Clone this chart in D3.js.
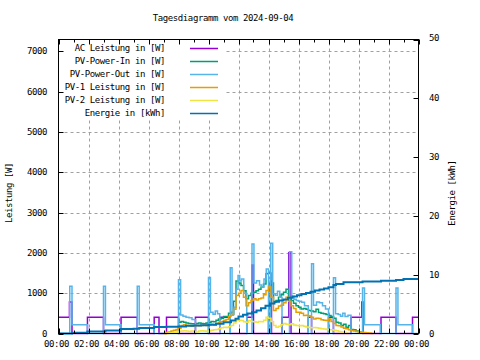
<!DOCTYPE html>
<html><head><meta charset="utf-8">
<script src="https://cdn.jsdelivr.net/npm/d3@7"></script>
<style>
html,body{margin:0;padding:0;background:#fff;}
text{font-family:"DejaVu Sans Mono",monospace;font-size:9px;letter-spacing:-0.4px;fill:#000;}
</style></head>
<body><svg id="c" width="480" height="360"></svg>
<script>
// ---- data ----
const title = "Tagesdiagramm vom 2024-09-04";
const xTickLabels = ["00:00","02:00","04:00","06:00","08:00","10:00","12:00","14:00","16:00","18:00","20:00","22:00","00:00"];
const yTicks = [0,1000,2000,3000,4000,5000,6000,7000];
const y2Ticks = [0,10,20,30,40,50];
const seriesNames = ["AC Leistung in [W]","PV-Power-In in [W]","PV-Power-Out in [W]","PV-1 Leistung in [W]","PV-2 Leistung in [W]","Energie in [kWh]"];
const seriesColors = ["#9400d3","#009e73","#56b4e9","#e69f00","#f0e442","#0072b2"];

// 10-minute samples from 07:00 to 21:00
const pvStartHour = 7, pvStepHour = 1/6;
const pvIn = [null,null,null,null,null,null,
 280,300,280,260,250,240,240,250,260,250,240,260,270,300,290,330,360,380,420,420,500,530,800,1300,
 1250,1190,1060,860,940,1000,1020,1060,1100,1150,1230,1480,1500,1250,775,820,900,960,1020,1100,
 900,820,750,690,650,610,620,600,570,560,540,600,520,500,490,470,445,420,380,280,260,200,230,155,200,
 100,90,60,40,0,null,null,null,null,null];
const pv1 = [0,30,40,60,80,100,130,200,220,200,190,180,190,200,190,200,210,200,210,230,220,250,280,300,
 330,350,420,450,600,940,1000,1065,900,690,760,820,860,830,860,880,960,1065,1150,900,570,620,680,700,
 760,900,800,690,620,530,530,500,445,450,440,400,360,380,370,340,330,320,360,300,250,200,190,160,
 130,120,90,75,60,50,40,30,25,20,15,0,0];
const pv2 = [0,0,10,20,30,40,50,60,70,60,50,60,50,40,60,70,60,50,60,80,90,100,120,140,155,150,170,200,
 260,320,330,320,290,280,320,300,290,280,300,290,330,400,380,300,200,155,180,220,250,230,220,240,210,
 200,190,200,180,160,150,140,150,140,130,120,110,100,90,90,80,70,50,40,30,0,0,null,null,null,null,
 null,null,null,null,null,null];

// step series: [hour, value]
const acSteps = [[0,400],[0.73,780],[0.9,0],[1.93,400],[3.0,0],[4.17,400],[5.25,0],[6.38,400],[6.7,0],
 [7.2,400],[8.0,0],[9.13,400],[10.0,0],[10.75,400],[11.45,0],[12.55,400],[12.9,1700],[13.0,0],
 [14.0,400],[14.12,1300],[14.2,0],[14.9,400],[15.35,2000],[15.5,0],[16.65,400],[16.87,0],[18.0,400],
 [18.33,0],[19.5,400],[20.22,780],[20.3,0],[21.5,400],[22.5,0],[23.6,400],[24,400]];
const pvOutSteps = [[0,0],[0.75,1170],[0.9,220],[1.93,0],[3.0,1170],[3.13,220],[4.17,0],
 [5.25,1170],[5.38,215],[6.38,0],
 [8.0,1330],[8.14,460],[8.3,430],[8.5,400],[8.7,390],[8.9,350],[9.13,0],
 [10.0,1390],[10.13,530],[10.3,480],[10.45,560],[10.6,490],[10.75,0],
 [11.45,1630],[11.57,480],[11.7,650],[11.85,1100],[11.97,1440],[12.08,1300],[12.2,1350],[12.35,1000],[12.55,0],
 [12.9,2220],[13.03,1250],[13.2,1310],[13.4,1200],[13.55,1150],[13.7,1350],[13.85,1600],[14.0,0],
 [14.15,2240],[14.28,985],[14.45,950],[14.6,1050],[14.75,900],[14.9,0],
 [15.4,2030],[15.55,920],[15.7,850],[15.85,820],[16.0,800],[16.2,775],[16.4,690],[16.65,0],
 [16.87,1730],[17.0,700],[17.2,780],[17.4,760],[17.6,690],[17.8,610],[18.0,0],
 [18.33,1380],[18.47,490],[18.65,470],[18.8,430],[18.95,500],[19.1,420],[19.3,450],[19.5,0],
 [20.27,1130],[20.4,220],[21.45,0],[22.5,1130],[22.63,220],[23.6,0],[24,0]];
const energySteps = [[0,0],[0.9,0.12],[1.93,0.34],[3.13,0.5],[4.17,0.76],[5.0,0.8],[5.38,0.95],[6.38,1.1],
 [7.2,1.15],[8.0,1.2],[8.5,1.3],[9.0,1.35],[9.5,1.4],[10.0,1.5],[10.5,1.65],[11.0,1.9],[11.5,2.2],
 [11.8,2.5],[12.0,2.9],[12.3,3.2],[12.6,3.4],[12.9,3.6],[13.2,3.9],[13.5,4.3],[13.8,4.7],[14.1,5.1],
 [14.4,5.4],[14.7,5.6],[15.0,5.8],[15.3,6.1],[15.6,6.3],[15.9,6.5],[16.2,6.7],[16.5,6.9],[16.8,7.1],
 [17.1,7.3],[17.4,7.5],[17.7,7.65],[18.0,7.85],[18.33,8.25],[18.5,8.4],[19.0,8.7],[20.27,8.86],
 [21.5,8.95],[22.5,9.1],[23.0,9.27],[24,9.27]];

// ---- drawing ----
const svg = d3.select("#c");
const L = 58.5, R = 418.5, T = 39.5, B = 333.5;
const x = d3.scaleLinear().domain([0,24]).range([L,R]);
const y = d3.scaleLinear().domain([0,7290]).range([B,T]);
const y2 = d3.scaleLinear().domain([0,50]).range([B,T]);

svg.append("rect").attr("width",480).attr("height",360).attr("fill","#fff");

// grid
const g = svg.append("g").attr("stroke","#a0a0a0").attr("stroke-width",1).attr("stroke-dasharray","3,3");
xTickLabels.forEach((t,i)=>{ if(i>0 && i<xTickLabels.length-1) g.append("line").attr("x1",Math.round(x(i*2))+0.5).attr("x2",Math.round(x(i*2))+0.5).attr("y1",B).attr("y2",T); });
yTicks.forEach(v=>{ if(v>0) g.append("line").attr("x1",L).attr("x2",R).attr("y1",Math.round(y(v))+0.5).attr("y2",Math.round(y(v))+0.5); });

// legend background
svg.append("rect").attr("x",L+0.5).attr("y",T+0.5).attr("width",166).attr("height",78).attr("fill","#fff");

// series
const stepLine = d3.line().defined(d=>d[1]!==null).x(d=>x(d[0])).y(d=>y(d[1])).curve(d3.curveStepAfter);
const toPairs = arr => arr.map((v,i)=>[pvStartHour+i*pvStepHour, v]);
const plotG = svg.append("g").attr("fill","none");
const draw = (data, color, w, line) => plotG.append("path").attr("d",(line||stepLine)(data)).attr("stroke",color).attr("stroke-width",w).attr("stroke-linejoin","miter");
draw(acSteps, seriesColors[0], 1.5);
draw(toPairs(pvIn), seriesColors[1], 1.5);
draw(pvOutSteps, seriesColors[2], 1.5);
draw(toPairs(pv1), seriesColors[3], 1.5);
draw(toPairs(pv2), seriesColors[4], 1.5);
const eLine = d3.line().x(d=>x(d[0])).y(d=>y2(d[1])).curve(d3.curveStepAfter);
draw(energySteps, seriesColors[5], 2, eLine);

// border + ticks
const ax = svg.append("g").attr("stroke","#000").attr("stroke-width",1);
ax.append("rect").attr("x",L).attr("y",T).attr("width",R-L).attr("height",B-T).attr("fill","none");
for(let h=0; h<=24; h++){
  const len = h%2===0 ? 5 : 3;
  const xx = Math.round(x(h))+0.5;
  ax.append("line").attr("x1",xx).attr("x2",xx).attr("y1",B).attr("y2",B-len);
  ax.append("line").attr("x1",xx).attr("x2",xx).attr("y1",T).attr("y2",T+len);
}
yTicks.forEach(v=>{
  const yy = Math.round(y(v))+0.5;
  ax.append("line").attr("x1",L).attr("x2",L+5).attr("y1",yy).attr("y2",yy);
});
y2Ticks.forEach(v=>{
  const yy = Math.round(y2(v))+0.5;
  ax.append("line").attr("x1",R).attr("x2",R-5).attr("y1",yy).attr("y2",yy);
});

// tick labels
xTickLabels.forEach((t,i)=>{
  svg.append("text").attr("x",x(i*2)-2).attr("y",347).attr("text-anchor","middle").text(t);
});
yTicks.forEach(v=>{
  svg.append("text").attr("x",47).attr("y",y(v)+3).attr("text-anchor","end").text(v);
});
y2Ticks.forEach(v=>{
  svg.append("text").attr("x",429).attr("y",y2(v)+3-(v===50?2:0)).attr("text-anchor","start").text(v);
});

// titles
svg.append("text").attr("x",223).attr("y",21).attr("text-anchor","middle").text(title);
svg.append("text").attr("transform","translate(12,193) rotate(-90)").attr("text-anchor","middle").text("Leistung [W]");
svg.append("text").attr("transform","translate(455,193) rotate(-90)").attr("text-anchor","middle").text("Energie [kWh]");

// legend
seriesNames.forEach((n,i)=>{
  const yy = 48 + i*12.9;
  svg.append("text").attr("x",165).attr("y",yy+3).attr("text-anchor","end").text(n);
  svg.append("line").attr("x1",190).attr("x2",218).attr("y1",Math.round(yy)+0.5).attr("y2",Math.round(yy)+0.5)
    .attr("stroke",seriesColors[i]).attr("stroke-width",1.5);
});
</script></body></html>
